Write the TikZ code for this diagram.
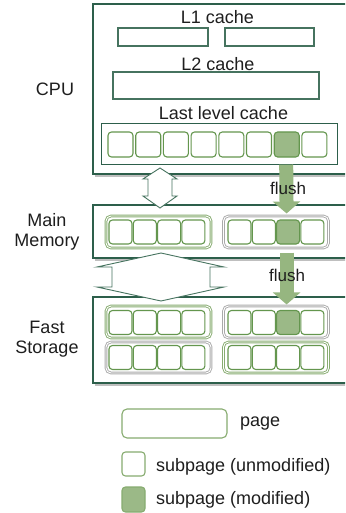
\documentclass[tikz,border=0pt]{standalone}
\usepackage{fontspec}
\setmainfont{Liberation Sans}
\usetikzlibrary{arrows.meta,calc}
\definecolor{boxdark}{RGB}{45,95,75}
\definecolor{boxmid}{RGB}{70,115,95}
\definecolor{subg}{RGB}{100,150,78}
\definecolor{pageg}{RGB}{135,172,112}
\definecolor{pagegrey}{RGB}{170,170,170}
\definecolor{modfill}{RGB}{155,185,135}
\definecolor{arrg}{RGB}{150,182,128}
\definecolor{txt}{RGB}{30,30,30}
\tikzset{
  lbl/.style={font=\fontsize{18}{19}\selectfont, text=txt, inner sep=0pt},
  flushlbl/.style={font=\fontsize{17}{18}\selectfont, text=txt, inner sep=0pt},
  bigbox/.style={draw=boxdark, line width=1.1pt, fill=white, inner sep=0pt},
  cachebox/.style={draw=boxmid, line width=1.1pt, fill=white, inner sep=0pt},
  sub/.style={draw=subg, line width=1.1pt, fill=white, rounded corners=3.5pt,
    minimum width=23pt, minimum height=24pt, inner sep=0pt},
  subm/.style={sub, fill=modfill},
  pagebox/.style={draw=pageg, double=white, double distance=0.9pt, line width=0.9pt,
    rounded corners=5pt, inner sep=0pt, minimum width=105pt, minimum height=32pt},
  pagegr/.style={pagebox, draw=pagegrey},
  shadow/.style={draw=black!25, line width=1.5pt},
  flusharrow/.style={draw=arrg, line width=14pt, -{Triangle[width=27pt,length=12pt]}},
  dblarrow/.style={draw=boxmid, line width=0.9pt, fill=white, line join=miter},
}
\begin{document}
\begin{tikzpicture}[x=1pt,y=-1pt]
\useasboundingbox (0,0) rectangle (345,513);
\clip (0,0) rectangle (345,513);
\fill[white] (0,0) rectangle (345,513);

% ---- shadows of main boxes
\draw[shadow] (95,176) -- (360,176);
\draw[shadow] (95,260) -- (360,260);
\draw[shadow] (95,385) -- (360,385);

% ---- CPU
\node[bigbox, minimum width=267pt, minimum height=170pt] (cpu) at (226.5,89) {};
\node[lbl] (cpulbl) at (55,89) {CPU};
\node[lbl] (l1lbl) at (217.5,17) {L1 cache};
\node[cachebox, minimum width=90pt, minimum height=18pt] (l1a) at (163,37) {};
\node[cachebox, minimum width=89pt, minimum height=18pt] (l1b) at (269.5,37) {};
\node[lbl] (l2lbl) at (218,64) {L2 cache};
\node[cachebox, minimum width=206pt, minimum height=27pt] (l2) at (216,85.5) {};
\node[lbl] (llclbl) at (223.5,113) {Last level cache};
\node[bigbox, line width=1pt, minimum width=236pt, minimum height=40pt] (llc) at (219,144) {};
\foreach \i in {1,...,8}{
  \pgfmathsetmacro{\cx}{120.5+(\i-1)*27.7}
  \ifnum\i=7
    \node[subm, minimum width=25pt, minimum height=25pt] (c\i) at (\cx,144.5) {};
  \else
    \node[sub, minimum width=25pt, minimum height=25pt] (c\i) at (\cx,144.5) {};
  \fi
}

% ---- Main memory
\node[bigbox, minimum width=267pt, minimum height=53pt] (mm) at (226.5,231.5) {};
\node[lbl, align=center] (mmlbl) at (47,231.5) {Main\\[1pt]Memory};
\node[pagebox] (mp1) at (158.5,232) {};
\node[pagegr] (mp2) at (276,232) {};
\foreach \i in {1,...,4}{
  \pgfmathsetmacro{\ca}{120.5+(\i-1)*24.3}
  \pgfmathsetmacro{\cb}{239.5+(\i-1)*24.3}
  \node[sub] (ma\i) at (\ca,232) {};
  \ifnum\i=3
    \node[subm] (mb\i) at (\cb,232) {};
  \else
    \node[sub] (mb\i) at (\cb,232) {};
  \fi
}

% ---- Fast storage
\node[bigbox, minimum width=267pt, minimum height=86pt] (fs) at (226.5,340) {};
\node[lbl, align=center] (fslbl) at (47,339) {Fast\\[1pt]Storage};
\node[pagebox] (fp1) at (158.5,322) {};
\node[pagegr] (fp2) at (276,322) {};
\node[pagegr, minimum height=31pt] (fp3) at (158.5,357.5) {};
\node[pagebox, minimum height=31pt] (fp4) at (276,357.5) {};
\foreach \i in {1,...,4}{
  \pgfmathsetmacro{\ca}{120.5+(\i-1)*24.3}
  \pgfmathsetmacro{\cb}{239.5+(\i-1)*24.3}
  \node[sub] (fa\i) at (\ca,322.5) {};
  \ifnum\i=3
    \node[subm] (fb\i) at (\cb,322.5) {};
  \else
    \node[sub] (fb\i) at (\cb,322.5) {};
  \fi
  \node[sub] (fc\i) at (\ca,357.5) {};
  \node[sub] (fd\i) at (\cb,357.5) {};
}

% ---- double arrows
\draw[dblarrow] (160,168) -- (177,179) -- (172,179) -- (172,196) -- (177,196)
  -- (160,208) -- (143,196) -- (148,196) -- (148,179) -- (143,179) -- cycle;
\draw[dblarrow] (161,253) -- (224,267) -- (210,267) -- (210,287) -- (224,287)
  -- (161,301) -- (97,287) -- (112,287) -- (112,267) -- (97,267) -- cycle;

% ---- flush arrows
\draw[flusharrow] ($(c7.south)+(-0.5,7)$) -- ($(mb3.north)+(-1.5,-6)$);
\draw[flusharrow] ($(mb3.south)+(-1.5,8)$) -- ($(fb3.north)+(-1.5,-5.5)$);
\node[flushlbl] (fl1) at (288,188) {flush};
\node[flushlbl] (fl2) at (287,275) {flush};

% ---- legend
\node[draw=pageg, line width=1.1pt, rounded corners=5pt, minimum width=105pt,
  minimum height=29pt, inner sep=0pt] (lgpage) at (174.5,423.5) {};
\node[lbl, anchor=west] (lgpagetxt) at (240,424) {page};
\node[sub, draw=pageg] (lgsub) at (133.5,464) {};
\node[lbl, anchor=west] (lgsubtxt) at (156,467) {subpage (unmodified)};
\node[subm, draw=pageg, minimum height=25pt] (lgmod) at (133.5,499.5) {};
\node[lbl, anchor=west] (lgmodtxt) at (156,500) {subpage (modified)};
\end{tikzpicture}
\end{document}
